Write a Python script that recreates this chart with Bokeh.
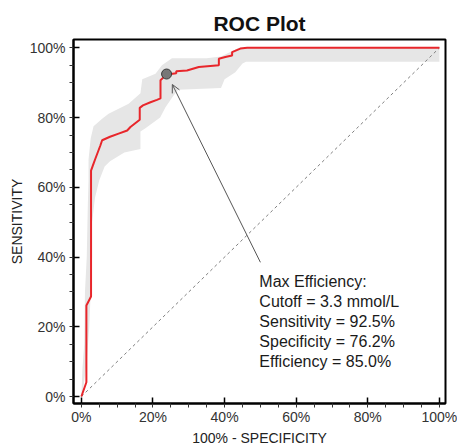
from bokeh.plotting import figure
from bokeh.models import (Range1d, SingleIntervalTicker, PrintfTickFormatter,
                          Arrow, OpenHead, ColumnDataSource)
from bokeh.core.properties import value
from bokeh.embed import file_html
from bokeh.resources import INLINE

# ROC curve (100% - specificity, sensitivity), in %
fpr = [0, 1.4, 1.4, 2.7, 2.7, 3.4, 3.9, 5.3, 5.8, 8.0, 10.4, 12.8, 13.7, 16.3, 16.3,
       17.2, 19.3, 21.1, 22.1, 22.1, 23.0, 23.8, 25.0, 26.5, 26.5, 29.5, 32.8, 38.4,
       38.4, 40.2, 42.1, 42.1, 44.4, 46.3, 100]
tpr = [0, 4.1, 26.1, 28.7, 64.8, 66.8, 68.2, 72.0, 73.5, 74.5, 75.4, 76.3, 77.3, 79.4, 82.8,
       83.5, 84.4, 85.1, 85.5, 90.7, 91.6, 92.5, 92.5, 92.7, 93.3, 93.5, 94.5, 95.0,
       96.9, 97.4, 97.8, 98.8, 99.8, 100, 100]

# confidence band outline: upper/left edge then lower/right edge
band_x = [0, 0.3, 0.8, 1.0, 1.5, 1.8, 2.0, 2.0, 2.6, 3.4, 5.8, 7.6, 13.2, 16.5, 17.0,
          20.7, 22.5, 25.3, 35, 39, 42, 44, 100,
          100, 46, 45, 43, 40, 39, 27, 25.5, 23.5, 22, 18, 16.5, 16.5, 12, 8, 6.5, 5,
          3.8, 3.0, 3.0, 2.6, 2.2, 1.5, 0.5, 0]
band_y = [0, 8, 15, 30, 40, 55, 62, 68, 74, 77.5, 79.7, 81.1, 84, 87, 91,
          92.6, 95, 97, 97, 97.5, 99, 100, 100,
          96, 96, 95.5, 93, 91, 88.5, 88, 86, 83, 80, 77, 76, 71, 70, 67.5, 66, 62,
          57, 50, 40, 30, 20, 10, 2, 0]

diag = [0, 100]
best_point = (23.8, 92.5)
arrow_from = (50.0, 38.5)
arrow_to = (25.4, 89.5)

info_lines = ["Max Efficiency:", "Cutoff = 3.3 mmol/L", "Sensitivity = 92.5%",
              "Specificity = 76.2%", "Efficiency = 85.0%"]
info_x = 49.7
info_y_top = 33.0
info_step = 5.75

x_title = "100% - SPECIFICITY"
y_title = "SENSITIVITY"

FONT = "Liberation Sans"

p = figure(width=457, height=448, output_backend="svg", toolbar_location=None,
           x_range=Range1d(-2.2, 101.7), y_range=Range1d(-2.0, 102.4),
           title="ROC Plot",
           min_border_left=73, min_border_right=12, min_border_top=39,
           min_border_bottom=45)

p.title.text_font = FONT
p.title.text_font_size = "21px"
p.title.text_font_style = "bold"
p.title.align = "center"
p.title.text_color = "#111111"
p.title.standoff = 9

p.grid.visible = False
p.outline_line_color = "black"
p.outline_line_width = 2
p.background_fill_color = "white"
p.border_fill_color = "white"

for ax in (p.xaxis[0], p.yaxis[0]):
    ax.ticker = SingleIntervalTicker(interval=20, num_minor_ticks=4)
    ax.formatter = PrintfTickFormatter(format="%d%%")
    ax.major_tick_in = 6
    ax.major_tick_out = 0
    ax.minor_tick_in = 0
    ax.minor_tick_out = 4
    ax.axis_line_color = "black"
    ax.axis_line_width = 2
    ax.major_tick_line_color = "black"
    ax.major_tick_line_width = 1.5
    ax.minor_tick_line_color = "#333333"
    ax.major_label_text_font = FONT
    ax.major_label_text_font_size = "14px"
    ax.major_label_text_color = "#333333"
    ax.axis_label_text_font = FONT
    ax.axis_label_text_font_size = "14px"
    ax.axis_label_text_font_style = "normal"
    ax.axis_label_text_color = "#222222"

p.xaxis.axis_label = x_title
p.yaxis.axis_label = y_title
p.xaxis.major_label_standoff = 1
p.xaxis.axis_label_standoff = 2
p.yaxis.major_label_standoff = 4
p.yaxis.axis_label_standoff = 2

# confidence band
p.patch(band_x, band_y, fill_color="#e6e6e6", line_color=None)

# chance diagonal
p.line(diag, diag, line_color="#808080", line_width=1, line_dash="3 3")

# ROC curve
p.line(fpr, tpr, line_color="#e8262b", line_width=2)

# optimum point
p.scatter([best_point[0]], [best_point[1]], size=10, fill_color="#777777",
          line_color="#3a3a3a", line_width=1)

# arrow
p.add_layout(Arrow(end=OpenHead(size=8, line_color="#555555", line_width=1),
                   x_start=arrow_from[0], y_start=arrow_from[1],
                   x_end=arrow_to[0], y_end=arrow_to[1],
                   line_color="#555555", line_width=1))

# annotation text
src = ColumnDataSource(dict(x=[info_x] * len(info_lines),
                            y=[info_y_top - i * info_step for i in range(len(info_lines))],
                            t=info_lines))
p.text(x="x", y="y", text="t", source=src, text_font=value(FONT),
       text_font_size="16px", text_baseline="middle", text_align="left",
       text_color="#1a1a1a")

open("out.html", "w").write(file_html(p, INLINE))
